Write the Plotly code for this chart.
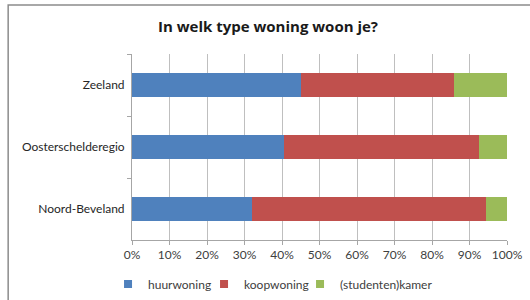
import plotly.graph_objects as go

categories = ["Zeeland", "Oosterschelderegio", "Noord-Beveland"]
huurwoning = [0.451, 0.406, 0.319]
koopwoning = [0.408, 0.518, 0.625]
studentenkamer = [0.141, 0.076, 0.056]
series_names = ["huurwoning", "koopwoning", "(studenten)kamer"]
colors = ["#4F81BD", "#C0504D", "#9BBB59"]

fig = go.Figure()
for name, vals, col in zip(series_names, [huurwoning, koopwoning, studentenkamer], colors):
    fig.add_trace(go.Bar(y=categories, x=vals, name=name, orientation="h",
                         marker=dict(color=col, line=dict(width=0)),
                         showlegend=False))
for name, col in zip(series_names, colors):
    fig.add_trace(go.Scatter(x=[None], y=[None], mode="markers", name=name,
                             marker=dict(symbol="square", size=8, color=col),
                             showlegend=True))
# invisible spacer entry so the last legend label is not clipped
fig.add_trace(go.Scatter(x=[None], y=[None], mode="markers", name=" ",
                         marker=dict(symbol="square", size=8, color="rgba(0,0,0,0)"),
                         showlegend=True, hoverinfo="skip"))

L, R, T, B = 132, 22.5, 54, 60
W, H = 530, 300
pw, ph = W - L - R, H - T - B

def px(x):
    return (x - L) / pw

def py(y):
    return (H - B - y) / ph

fig.update_layout(
    width=W, height=H,
    margin=dict(l=L, r=R, t=T, b=B, autoexpand=False),
    barmode="stack", bargap=0.6,
    paper_bgcolor="white", plot_bgcolor="white",
    font=dict(family="Lato, Open Sans, sans-serif", size=12, color="#404040"),
    title=dict(text="<b>In welk type woning woon je?</b>", x=268 / W, xanchor="center",
               y=1 - 27 / H, yanchor="middle",
               font=dict(size=15, color="#1a1a1a", family="Open Sans, sans-serif")),
    xaxis=dict(range=[0, 1], dtick=0.1, tickformat=".0%", showgrid=True,
               gridcolor="#BFBFBF", gridwidth=1, showline=True, linecolor="#A6A6A6",
               ticks="outside", ticklen=4, tickcolor="#A6A6A6", automargin=False,
               tickfont=dict(color="#404040", size=12), zeroline=False),
    yaxis=dict(autorange="reversed", showline=True, linecolor="#A6A6A6",
               ticks="outside", tickson="boundaries", ticklen=4, tickcolor="#A6A6A6",
               automargin=False, ticklabelstandoff=4,
               tickfont=dict(color="#262626", size=12), showgrid=False),
    legend=dict(orientation="h", x=px(108), xanchor="left", y=py(284), yanchor="middle",
                font=dict(size=12, color="#404040"), itemwidth=30,
                entrywidth=51, entrywidthmode="pixels",
                traceorder="normal"),
    shapes=[dict(type="rect", xref="paper", yref="paper",
                 x0=px(8), x1=px(540), y0=py(310), y1=py(5),
                 line=dict(color="#8C8C8C", width=1.5), fillcolor="rgba(0,0,0,0)",
                 layer="below")],
)

fig.write_html("out.html", config={"displayModeBar": False},
               post_script="document.body.style.margin='0';")
